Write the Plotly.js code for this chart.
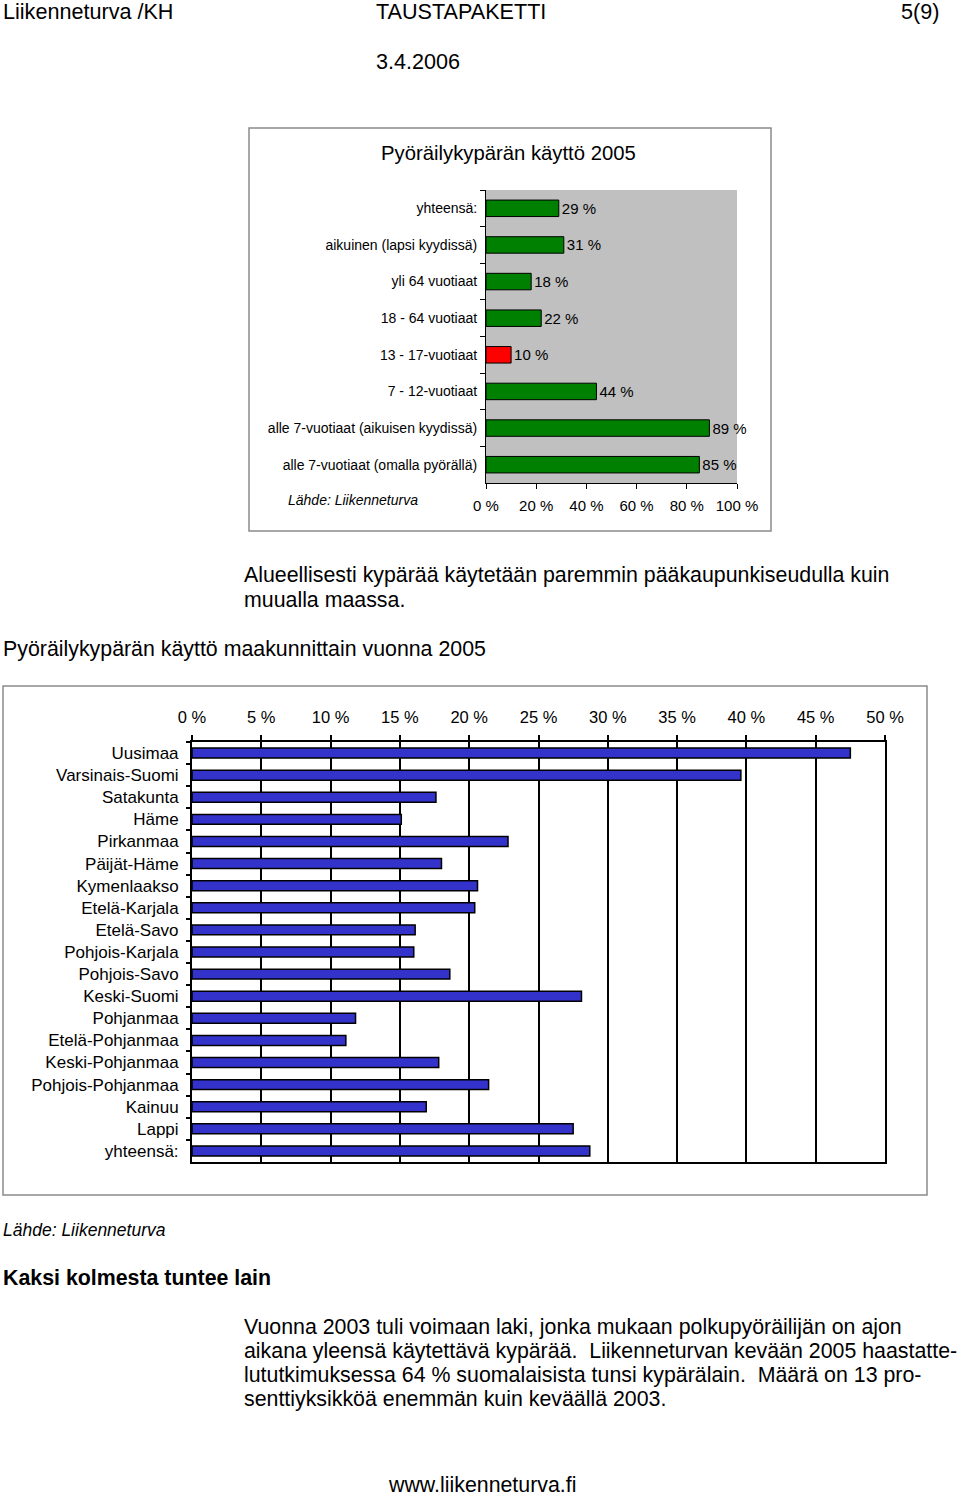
<!DOCTYPE html>
<html>
<head>
<meta charset="utf-8">
<script src="https://cdn.plot.ly/plotly-3.0.1.min.js"></script>
<style>
  html, body { margin: 0; padding: 0; background: #fff; }
  #page { width: 960px; height: 1498px; }
</style>
</head>
<body>
<div id="page"></div>
<script>
// ---------- data ----------
const ageGroups = [
  'yhteensä:',
  'aikuinen (lapsi kyydissä)',
  'yli 64 vuotiaat',
  '18 - 64 vuotiaat',
  '13 - 17-vuotiaat',
  '7 - 12-vuotiaat',
  'alle 7-vuotiaat (aikuisen kyydissä)',
  'alle 7-vuotiaat (omalla pyörällä)'
];
const ageValues = [29, 31, 18, 22, 10, 44, 89, 85];
const highlightGroup = '13 - 17-vuotiaat';
const ageTicks = [0, 20, 40, 60, 80, 100];
const ageTickText = ['0 %', '20 %', '40 %', '60 %', '80 %', '100 %'];
const ageGrid = [20, 40, 60, 80];

const regions = [
  'Uusimaa', 'Varsinais-Suomi', 'Satakunta', 'Häme', 'Pirkanmaa',
  'Päijät-Häme', 'Kymenlaakso', 'Etelä-Karjala', 'Etelä-Savo',
  'Pohjois-Karjala', 'Pohjois-Savo', 'Keski-Suomi', 'Pohjanmaa',
  'Etelä-Pohjanmaa', 'Keski-Pohjanmaa', 'Pohjois-Pohjanmaa', 'Kainuu',
  'Lappi', 'yhteensä:'
];
const regionValues = [47.5, 39.6, 17.6, 15.1, 22.8, 18.0, 20.6, 20.4, 16.1,
  16.0, 18.6, 28.1, 11.8, 11.1, 17.8, 21.4, 16.9, 27.5, 28.7];
const regionTicks = [0, 5, 10, 15, 20, 25, 30, 35, 40, 45, 50];
const regionTickText = ['0 %', '5 %', '10 %', '15 %', '20 %', '25 %', '30 %', '35 %', '40 %', '45 %', '50 %'];

// ---------- helpers (page pixels -> paper) ----------
const W = 960, H = 1498;
const px = x => x / W;
const py = y => 1 - y / H;
const FONT = '"Liberation Sans", Arial, Helvetica, sans-serif';

function note(text, x, y, size, anchor) {
  return {
    text: text, xref: 'paper', yref: 'paper', x: px(x), y: py(y),
    xanchor: anchor || 'left', yanchor: 'middle', showarrow: false,
    font: { family: FONT, size: size, color: '#000' }
  };
}
const NB = '\u00a0';
const BODY = 21.35;
const HEAD = 21.6;

// ---------- traces ----------
const trace1 = {
  type: 'bar', orientation: 'h',
  x: ageValues, y: ageGroups,
  xaxis: 'x', yaxis: 'y',
  marker: {
    color: ageGroups.map(g => g === highlightGroup ? '#ff0000' : '#008000'),
    line: { color: '#000', width: 1 }
  },
  text: ageValues.map(v => v + ' %'),
  textposition: 'outside',
  constraintext: 'none',
  cliponaxis: false,
  textfont: { family: FONT, size: 15, color: '#000' },
  hoverinfo: 'none'
};
const trace2 = {
  type: 'bar', orientation: 'h',
  x: regionValues, y: regions,
  xaxis: 'x2', yaxis: 'y2',
  marker: { color: '#3333cc', line: { color: '#000', width: 1.5 } },
  hoverinfo: 'none'
};

// ---------- layout ----------
const layout = {
  width: W, height: H,
  margin: { l: 0, r: 0, t: 0, b: 0 },
  paper_bgcolor: '#fff', plot_bgcolor: 'rgba(0,0,0,0)',
  showlegend: false,
  bargap: 0.55,
  font: { family: FONT, color: '#000' },
  xaxis: {
    domain: [px(486), px(737)], anchor: 'y',
    range: [0, 100], tickvals: ageTicks, ticktext: ageTickText,
    ticks: 'outside', ticklen: 5, tickcolor: '#000', tickwidth: 1,
    ticklabelstandoff: 4,
    showline: true, linecolor: '#000', linewidth: 1,
    showgrid: false, zeroline: false, fixedrange: true,
    tickfont: { family: FONT, size: 15, color: '#000' }
  },
  xaxis3: {
    overlaying: 'x', anchor: 'y',
    range: [0, 100], tickvals: ageGrid,
    showgrid: true, gridcolor: '#000', gridwidth: 1,
    showticklabels: false, ticks: '', showline: false, zeroline: false,
    fixedrange: true
  },
  yaxis: {
    domain: [py(483), py(190)], anchor: 'x',
    type: 'category', autorange: 'reversed',
    tickson: 'boundaries', ticks: 'outside', ticklen: 5, tickcolor: '#000',
    ticklabelstandoff: 5,
    showline: true, linecolor: '#000', linewidth: 1,
    showgrid: false, zeroline: false, fixedrange: true,
    tickfont: { family: FONT, size: 14, color: '#000' }
  },
  xaxis2: {
    domain: [px(192), px(885)], anchor: 'y2', side: 'top',
    range: [0, 50], tickvals: regionTicks, ticktext: regionTickText,
    ticks: 'outside', ticklen: 5, tickcolor: '#000', tickwidth: 2,
    ticklabelstandoff: 5,
    showline: true, mirror: true, linecolor: '#000', linewidth: 2,
    showgrid: true, gridcolor: '#000', gridwidth: 2,
    zeroline: false, fixedrange: true,
    tickfont: { family: FONT, size: 16.5, color: '#000' }
  },
  yaxis2: {
    domain: [py(1162), py(742)], anchor: 'x2',
    type: 'category', autorange: 'reversed',
    tickson: 'boundaries', ticks: 'outside', ticklen: 4, tickcolor: '#000', tickwidth: 2,
    ticklabelstandoff: 8,
    showline: true, mirror: true, linecolor: '#000', linewidth: 2,
    showgrid: false, zeroline: false, fixedrange: true,
    tickfont: { family: FONT, size: 17, color: '#000' }
  },
  shapes: [
    // chart 1 gray plot background
    { type: 'rect', xref: 'x domain', yref: 'y domain', x0: 0, x1: 1, y0: 0, y1: 1,
      fillcolor: '#c0c0c0', line: { width: 0 }, layer: 'below' },
    // chart frames
    { type: 'rect', xref: 'paper', yref: 'paper', x0: px(249), x1: px(771), y0: py(531), y1: py(128),
      line: { color: '#8a8a8a', width: 1.5 }, layer: 'below' },
    { type: 'rect', xref: 'paper', yref: 'paper', x0: px(3), x1: px(927), y0: py(1195), y1: py(686),
      line: { color: '#8a8a8a', width: 1.5 }, layer: 'below' }
  ],
  annotations: [
    note('Liikenneturva /KH', 1, 12, HEAD),
    note('TAUSTAPAKETTI', 374, 12, HEAD),
    note('5(9)', 941, 12, HEAD, 'right'),
    note('3.4.2006', 374, 61, HEAD),
    note('Pyöräilykypärän käyttö 2005', 509, 153, 20.3, 'center'),
    note('<i>Lähde: Liikenneturva</i>', 286, 500, 14),
    note('Alueellisesti kypärää käytetään paremmin pääkaupunkiseudulla kuin', 242, 575, BODY),
    note('muualla maassa.', 242, 600, BODY),
    note('Pyöräilykypärän käyttö maakunnittain vuonna 2005', 1, 649, BODY),
    note('<i>Lähde: Liikenneturva</i>', 1, 1230, 17.5),
    note('<b>Kaksi kolmesta tuntee lain</b>', 1, 1278, BODY),
    note('Vuonna 2003 tuli voimaan laki, jonka mukaan polkupyöräilijän on ajon', 242, 1327, BODY),
    note('aikana yleensä käytettävä kypärää.' + NB + ' Liikenneturvan kevään 2005 haastatte-', 242, 1351, BODY),
    note('lututkimuksessa 64 % suomalaisista tunsi kypärälain.' + NB + ' Määrä on 13 pro-', 242, 1375, BODY),
    note('senttiyksikköä enemmän kuin keväällä 2003.', 242, 1399, BODY),
    note('www.liikenneturva.fi', 482, 1485, BODY, 'center')
  ]
};

Plotly.newPlot('page', [trace1, trace2], layout, { staticPlot: true, displayModeBar: false });
</script>
</body>
</html>
